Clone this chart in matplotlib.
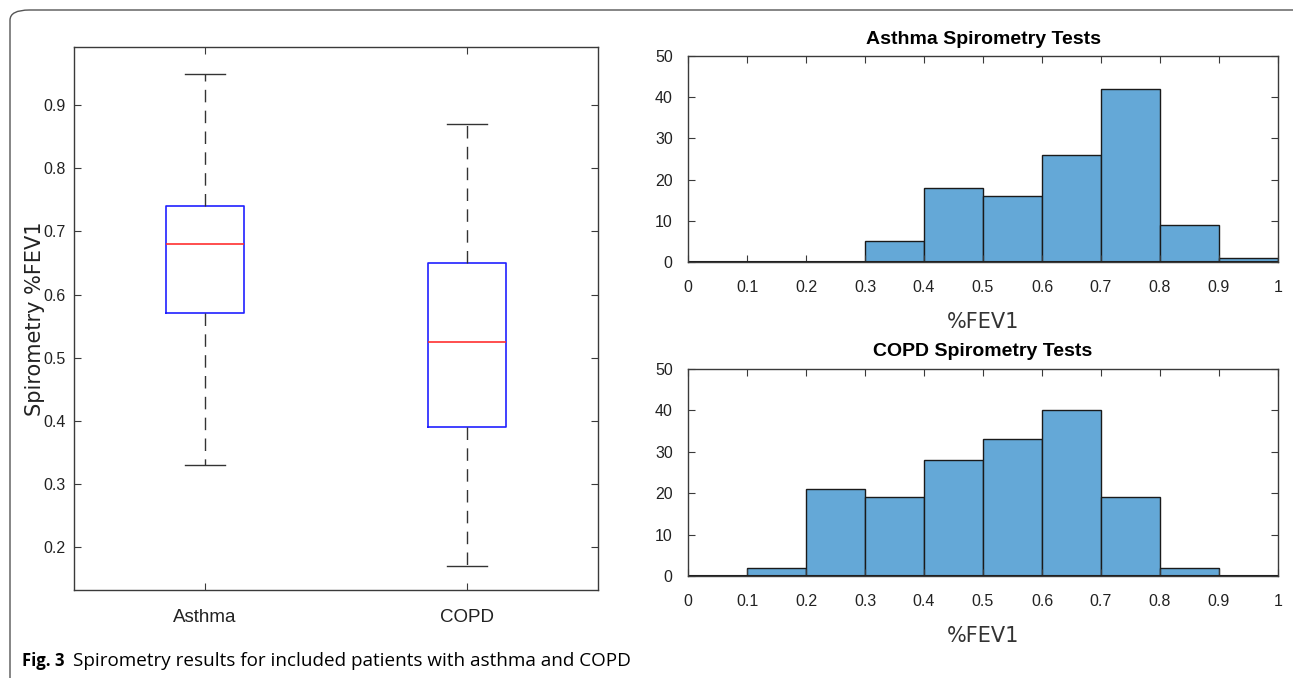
import matplotlib.pyplot as plt
from matplotlib.patches import FancyBboxPatch
import numpy as np

# box plot summary
groups = ['Asthma', 'COPD']
whis_low = [0.33, 0.17]
q1 = [0.57, 0.39]
med = [0.68, 0.525]
q3 = [0.74, 0.65]
whis_high = [0.95, 0.87]

# histogram counts, bins of 0.1 from 0 to 1
bin_edges = [0, 0.1, 0.2, 0.3, 0.4, 0.5, 0.6, 0.7, 0.8, 0.9, 1.0]
asthma_counts = [0, 0, 0, 5, 18, 16, 26, 42, 9, 1]
copd_counts = [0, 2, 21, 19, 28, 33, 40, 19, 2, 0]

tick_font = ['Liberation Sans Narrow', 'Liberation Sans', 'DejaVu Sans']
axcol = '#3a3a3a'
barcol = '#64a8d7'

fig = plt.figure(figsize=(12.93, 6.78), dpi=100)

# outer rounded frame
frame = FancyBboxPatch((10 / 1293, -0.1), 1.2, 1 - 10 / 678 + 0.1,
                       boxstyle='round,pad=0,rounding_size=0.015',
                       transform=fig.transFigure, fill=False,
                       edgecolor='#555555', linewidth=1.0)
fig.patches.append(frame)


def style_axes(ax, xpad, ypad):
    for s in ax.spines.values():
        s.set_color(axcol)
        s.set_linewidth(1.0)
    ax.tick_params(direction='in', top=True, right=True, color=axcol,
                   labelcolor='#222222', length=5)
    ax.tick_params(axis='x', pad=xpad)
    ax.tick_params(axis='y', pad=ypad)
    for lab in ax.get_xticklabels() + ax.get_yticklabels():
        lab.set_family(tick_font)
        lab.set_fontsize(11.5)


# ---- box plot ----
ax1 = fig.add_axes([74 / 1293, 1 - 590 / 678, 524 / 1293, 543 / 678])
stats = []
for i, g in enumerate(groups):
    stats.append({'label': g, 'whislo': whis_low[i], 'q1': q1[i],
                  'med': med[i], 'q3': q3[i], 'whishi': whis_high[i],
                  'fliers': []})
ax1.bxp(stats, positions=[1, 2], widths=0.3, showfliers=False,
        boxprops=dict(color='#2020ff', linewidth=1.2),
        medianprops=dict(color='#ff3030', linewidth=1.2),
        whiskerprops=dict(color='#333333', linewidth=1.0,
                          linestyle=(0, (9, 6))),
        capprops=dict(color='#333333', linewidth=1.0),
        capwidths=0.15)
ax1.set_xlim(0.5, 2.5)
ax1.set_ylim(0.132, 0.992)
ax1.set_yticks([0.2, 0.3, 0.4, 0.5, 0.6, 0.7, 0.8, 0.9])
style_axes(ax1, 14, 6)
for lab in ax1.get_xticklabels():
    lab.set_fontsize(13.5)
ax1.set_ylabel('Spirometry %FEV1', fontsize=15, color='#222222',
               family=['DejaVu Sans'])
ax1.yaxis.set_label_coords(-0.056, 0.5)


def hist_panel(rect, counts, title):
    ax = fig.add_axes(rect)
    ax.hist(bin_edges[:-1], bins=bin_edges, weights=counts,
            color=barcol, edgecolor='#1a1a1a', linewidth=1.0)
    # zero-height bins still show their edge line
    ax.hlines(0, bin_edges[0], bin_edges[-1], color='#1a1a1a', linewidth=1.5)
    ax.set_xlim(0, 1)
    ax.set_ylim(0, 50)
    ax.set_xticks(np.arange(0, 1.01, 0.1))
    ax.set_xticklabels(['0', '0.1', '0.2', '0.3', '0.4', '0.5', '0.6',
                        '0.7', '0.8', '0.9', '1'])
    ax.set_yticks([0, 10, 20, 30, 40, 50])
    style_axes(ax, 13, 11)
    ax.set_title(title, fontsize=14, fontweight='bold', family=tick_font,
                 pad=9)
    ax.set_xlabel('%FEV1', fontsize=15, color='#333333', labelpad=12)
    return ax


hist_panel([688 / 1293, 1 - 262 / 678, 590 / 1293, 206 / 678],
           asthma_counts, 'Asthma Spirometry Tests')
hist_panel([688 / 1293, 1 - 576 / 678, 590 / 1293, 207 / 678],
           copd_counts, 'COPD Spirometry Tests')

# caption
fig.text(22 / 1293, 1 - 661 / 678, 'Fig. 3', fontsize=12, fontweight='bold',
         family='Open Sans', va='center', ha='left')
fig.text(73 / 1293, 1 - 661 / 678,
         'Spirometry results for included patients with asthma and COPD',
         fontsize=13.6, family='Open Sans', va='center', ha='left')

fig.savefig('out.png', dpi=100)
